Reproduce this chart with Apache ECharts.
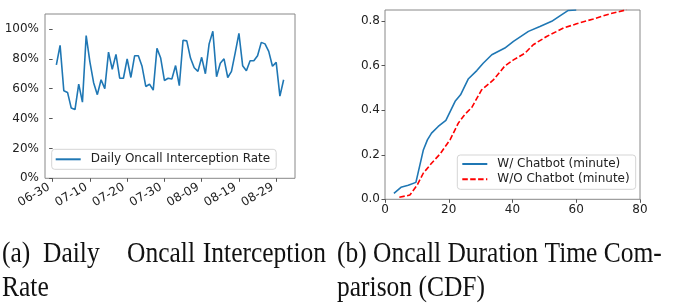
<!DOCTYPE html>
<html><head><meta charset="utf-8">
<script src="https://cdn.jsdelivr.net/npm/echarts@6/dist/echarts.min.js"></script>
<style>html,body{margin:0;padding:0;background:#fff}#c{width:675px;height:306px}</style>
</head><body><div id="c"></div>
<script>
const year = 2023;
const dates = ['07-01','07-02','07-03','07-04','07-05','07-06','07-07','07-08','07-09','07-10',
  '07-11','07-12','07-13','07-14','07-15','07-16','07-17','07-18','07-19','07-20',
  '07-21','07-22','07-23','07-24','07-25','07-26','07-27','07-28','07-29','07-30','07-31',
  '08-01','08-02','08-03','08-04','08-05','08-06','08-07','08-08','08-09','08-10',
  '08-11','08-12','08-13','08-14','08-15','08-16','08-17','08-18','08-19','08-20',
  '08-21','08-22','08-23','08-24','08-25','08-26','08-27','08-28','08-29','08-30','08-31'];
const rate = [0.76,0.89,0.586,0.575,0.47,0.46,0.63,0.51,0.955,0.78,
  0.64,0.56,0.66,0.60,0.845,0.73,0.83,0.67,0.67,0.80,
  0.675,0.82,0.82,0.75,0.615,0.63,0.59,0.87,0.805,0.655,
  0.67,0.665,0.755,0.62,0.924,0.92,0.805,0.74,0.716,0.81,
  0.70,0.90,0.984,0.68,0.77,0.80,0.675,0.716,0.84,0.97,
  0.754,0.72,0.787,0.787,0.82,0.91,0.90,0.85,0.75,0.776,
  0.55,0.66];
const rateTickLabels = ['06-30','07-10','07-20','07-30','08-09','08-19','08-29'];
const rateYTicks = [0,0.2,0.4,0.6,0.8,1.0];

const withX = [2.8,5.0,7.3,9.7,12.0,13.3,14.6,16.7,19.1,22.0,23.7,26.1,28.8,30.8,33.5,37.6,40.3,45.0,48.6,52.3,55.0,57.5,60.0];
const withY = [0.027,0.054,0.063,0.076,0.22,0.267,0.297,0.327,0.354,0.44,0.469,0.54,0.578,0.611,0.649,0.679,0.709,0.754,0.776,0.799,0.825,0.848,0.85];
const withoutX = [4.5,7.8,10.1,12.0,14.6,17.3,20.4,23.0,25.1,27.2,30.3,34.0,37.6,40.3,43.9,46.5,50.7,56.0,60.1,65.4,70.6,75.8];
const withoutY = [0.009,0.019,0.064,0.117,0.162,0.204,0.267,0.342,0.382,0.412,0.491,0.536,0.599,0.626,0.656,0.694,0.731,0.769,0.788,0.81,0.833,0.851];
const cdfYTicks = [0,0.2,0.4,0.6,0.8];

const rateName = 'Daily Oncall Interception Rate';
const withName = 'W/ Chatbot (minute)';
const withoutName = 'W/O Chatbot (minute)';

const DAY = 86400000;
const origin = rateTickLabels[0];
function ts(s){ return Date.UTC(year, +s.slice(0,2)-1, +s.slice(3)); }
function dayNum(s){ return Math.round((ts(s) - ts(origin)) / DAY); }
const rateData = dates.map((d,i)=>[dayNum(d), rate[i]]);
const tickDays = rateTickLabels.map(dayNum);
const tickMap = {}; tickDays.forEach((t,i)=>tickMap[t]=rateTickLabels[i]);
const d0 = dayNum(dates[0]), d1 = dayNum(dates[dates.length-1]);
const xMin = d0 - 0.05*(d1-d0), xMax = d1 + 0.05*(d1-d0);

const FONT = 'DejaVu Sans';
const TXT = '#222';
const SPINE = '#888';
const lbl = {fontFamily: FONT, fontSize: 12, color: TXT};
const serif = '25.5px "Liberation Serif"';
const hideSymbol = {color:'transparent', borderColor:'transparent', borderWidth:0, opacity:0};

const chart = echarts.init(document.getElementById('c'), null, {renderer:'canvas'});
chart.setOption({
  animation: false,
  backgroundColor: '#fff',
  grid: [
    {left:45, top:14, width:250, height:164.3, show:true, borderColor:SPINE, borderWidth:1, backgroundColor:'transparent'},
    {left:385, top:10, width:255, height:189.3, show:true, borderColor:SPINE, borderWidth:1, backgroundColor:'transparent'}
  ],
  xAxis: [
    {type:'value', gridIndex:0, min:xMin, max:xMax,
     axisLine:{show:false}, splitLine:{show:false},
     axisTick:{show:true, customValues:tickDays, length:3.5, lineStyle:{color:'#555'}},
     axisLabel:Object.assign({customValues:tickDays, rotate:30, margin:6, padding:[0,4,0,0],
       formatter:(v)=>tickMap[Math.round(v)]||''}, lbl)},
    {type:'value', gridIndex:1, min:0, max:80, interval:20,
     axisLine:{show:false}, splitLine:{show:false},
     axisTick:{show:true, length:3.5, lineStyle:{color:'#555'}},
     axisLabel:Object.assign({margin:5}, lbl)}
  ],
  yAxis: [
    {type:'value', gridIndex:0, min:0, max:1.1,
     axisLine:{show:false}, splitLine:{show:false},
     axisTick:{show:true, customValues:rateYTicks, length:3.5, lineStyle:{color:'#555'}},
     axisLabel:Object.assign({customValues:rateYTicks, margin:6,
       formatter:(v)=>Math.round(v*100)+'%'}, lbl)},
    {type:'value', gridIndex:1, min:0, max:0.85,
     axisLine:{show:false}, splitLine:{show:false},
     axisTick:{show:true, customValues:cdfYTicks, length:3.5, lineStyle:{color:'#555'}},
     axisLabel:Object.assign({customValues:cdfYTicks, margin:5,
       formatter:(v)=>v.toFixed(1)}, lbl)}
  ],
  legend: [
    {data:[rateName], orient:'vertical', left:51.7, top:149.3,
     itemWidth:25, itemHeight:14, padding:[4,6,4,3], itemStyle:hideSymbol,
     backgroundColor:'rgba(255,255,255,0.8)', borderColor:'#d5d5d5', borderWidth:1, borderRadius:3,
     textStyle:Object.assign({padding:[0,0,0,5]}, lbl)},
    {data:[withName, withoutName], orient:'vertical', left:457.3, top:155,
     itemWidth:25, itemHeight:14, itemGap:3.3, padding:[3,6,4,4], itemStyle:hideSymbol,
     backgroundColor:'rgba(255,255,255,0.8)', borderColor:'#d5d5d5', borderWidth:1, borderRadius:3,
     textStyle:Object.assign({padding:[0,0,0,5]}, lbl)}
  ],
  series: [
    {name:rateName, type:'line', xAxisIndex:0, yAxisIndex:0, data:rateData,
     symbol:'none', lineStyle:{color:'#1f77b4', width:1.6}, itemStyle:{color:'#1f77b4'}},
    {name:withName, type:'line', xAxisIndex:1, yAxisIndex:1,
     data:withX.map((x,i)=>[x, withY[i]]),
     symbol:'none', lineStyle:{color:'#1f77b4', width:1.6}, itemStyle:{color:'#1f77b4'}},
    {name:withoutName, type:'line', xAxisIndex:1, yAxisIndex:1,
     data:withoutX.map((x,i)=>[x, withoutY[i]]),
     symbol:'none', lineStyle:{color:'#ff0000', width:1.6, type:[5.5,2.4]}, itemStyle:{color:'#ff0000'}}
  ],
  graphic: [
    {type:'text', x:2, y:254, scaleY:1.18, style:{text:'(a)', font:serif, fill:'#111', verticalAlign:'middle', align:'left'}},
    {type:'text', x:43, y:254, scaleY:1.18, style:{text:'Daily', font:serif, fill:'#111', verticalAlign:'middle', align:'left'}},
    {type:'text', x:127, y:254, scaleY:1.18, style:{text:'Oncall', font:serif, fill:'#111', verticalAlign:'middle', align:'left'}},
    {type:'text', x:326, y:254, scaleY:1.18, style:{text:'Interception', font:serif, fill:'#111', verticalAlign:'middle', align:'right'}},
    {type:'text', x:2, y:288, scaleY:1.18, style:{text:'Rate', font:serif, fill:'#111', verticalAlign:'middle', align:'left'}},
    {type:'text', x:337, y:254, scaleY:1.18, style:{text:'(b) Oncall Duration Time Com-', font:serif, fill:'#111', verticalAlign:'middle', align:'left'}},
    {type:'text', x:337, y:288, scaleY:1.18, style:{text:'parison (CDF)', font:serif, fill:'#111', verticalAlign:'middle', align:'left'}}
  ]
});
</script></body></html>
